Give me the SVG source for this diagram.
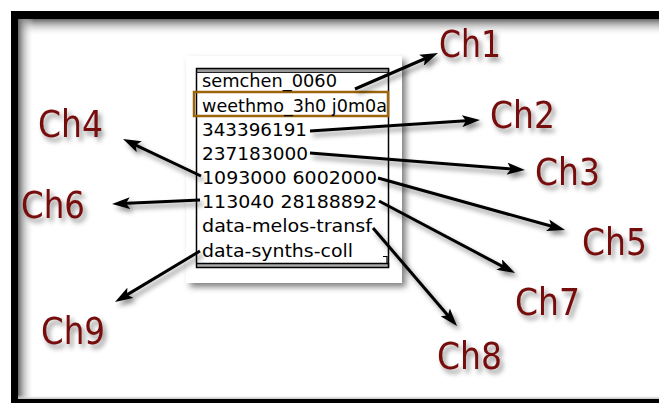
<svg xmlns="http://www.w3.org/2000/svg" width="659" height="403" viewBox="0 0 659 403">
<style>
.lbl{font-family:"DejaVu Sans","Liberation Sans",sans-serif;font-size:37px;fill:#760b0b}
.row{font-family:"DejaVu Sans","Liberation Sans",sans-serif;font-size:18px;fill:#000}
.conn{stroke:#000;stroke-width:3;fill:none;marker-end:url(#ah)}
</style>
<defs>
<marker id="ah" viewBox="0 0 18 12" refX="8" refY="6" markerWidth="18" markerHeight="12" markerUnits="userSpaceOnUse" orient="auto">
<path d="M0,0 L18,6 L0,12 L4,6 Z" fill="#000"/>
</marker>
<filter id="sh" x="-20%" y="-20%" width="150%" height="150%">
<feDropShadow dx="3" dy="4" stdDeviation="2.5" flood-color="#000" flood-opacity="0.45"/>
</filter>
<filter id="psh" x="-10%" y="-10%" width="130%" height="130%">
<feDropShadow dx="4" dy="4" stdDeviation="3" flood-color="#000" flood-opacity="0.5"/>
</filter>
<linearGradient id="gt" x1="0" y1="0" x2="0" y2="1">
<stop offset="0" stop-color="#666"/>
<stop offset="1" stop-color="#fff" stop-opacity="0"/>
</linearGradient>
<linearGradient id="gl" x1="0" y1="0" x2="1" y2="0">
<stop offset="0" stop-color="#666"/>
<stop offset="1" stop-color="#fff" stop-opacity="0"/>
</linearGradient>
<linearGradient id="gb" x1="0" y1="1" x2="0" y2="0">
<stop offset="0" stop-color="#bbb"/>
<stop offset="1" stop-color="#fff" stop-opacity="0"/>
</linearGradient>
</defs>
<rect width="659" height="403" fill="#fff"/>
<g id="frame">
<rect x="18" y="19" width="641" height="17" fill="url(#gt)"/>
<rect x="18" y="19" width="16" height="380" fill="url(#gl)"/>
<rect x="18" y="395" width="641" height="4" fill="url(#gb)"/>
<rect x="11" y="11" width="648" height="8" fill="#000"/>
<rect x="11" y="11" width="7" height="392" fill="#000"/>
<rect x="11" y="399" width="648" height="4" fill="#000"/>
</g>
<g id="panel">
<rect x="186" y="56" width="216" height="227" fill="#fff" filter="url(#psh)"/>
<rect x="196.5" y="69" width="193" height="4" fill="#999"/>
<rect x="196.5" y="263" width="193" height="4" fill="#aaa"/>
<rect x="196.5" y="68.5" width="192" height="199" fill="none" stroke="#000" stroke-width="1.5"/>
<line x1="196.5" y1="72.5" x2="388.5" y2="72.5" stroke="#222" stroke-width="1"/>
<line x1="196.5" y1="263.5" x2="388.5" y2="263.5" stroke="#000" stroke-width="1.5"/>
<path d="M383,256.5 H387 V263" fill="none" stroke="#000" stroke-width="1.2"/>
<rect x="194" y="92" width="194" height="24" fill="none" stroke="#9c650c" stroke-width="2.5"/>
<text class="row" x="202" y="87" textLength="135" lengthAdjust="spacingAndGlyphs">semchen_0060</text>
<text class="row" x="202" y="112" textLength="185" lengthAdjust="spacingAndGlyphs">weethmo_3h0 j0m0a</text>
<text class="row" x="202" y="136" textLength="105" lengthAdjust="spacingAndGlyphs">343396191</text>
<text class="row" x="202" y="160" textLength="106" lengthAdjust="spacingAndGlyphs">237183000</text>
<text class="row" x="202" y="184" textLength="175" lengthAdjust="spacingAndGlyphs">1093000 6002000</text>
<text class="row" x="202" y="208" textLength="175" lengthAdjust="spacingAndGlyphs">113040 28188892</text>
<text class="row" x="202" y="232" textLength="170" lengthAdjust="spacingAndGlyphs">data-melos-transf</text>
<text class="row" x="202" y="257" textLength="151" lengthAdjust="spacingAndGlyphs">data-synths-coll</text>
</g>
<g id="connectors" filter="url(#sh)">
<line class="conn" x1="355" y1="89" x2="428.8" y2="57"/>
<line class="conn" x1="310" y1="131" x2="470" y2="120.6"/>
<line class="conn" x1="310" y1="153" x2="515" y2="169.2"/>
<line class="conn" x1="201" y1="176" x2="132" y2="143.3"/>
<line class="conn" x1="378" y1="178" x2="555.4" y2="227.3"/>
<line class="conn" x1="200" y1="200" x2="122" y2="203.5"/>
<line class="conn" x1="379" y1="201" x2="506.2" y2="268.3"/>
<line class="conn" x1="373" y1="228" x2="450.5" y2="318.4"/>
<line class="conn" x1="200" y1="251" x2="123.6" y2="296.9"/>
</g>
<g id="labels" filter="url(#sh)">
<g id="ch1"><text class="lbl" x="439" y="57" textLength="62" lengthAdjust="spacingAndGlyphs">Ch1</text></g>
<g id="ch2"><text class="lbl" x="490" y="128" textLength="65" lengthAdjust="spacingAndGlyphs">Ch2</text></g>
<g id="ch3"><text class="lbl" x="535" y="185" textLength="65" lengthAdjust="spacingAndGlyphs">Ch3</text></g>
<g id="ch4"><text class="lbl" x="38" y="137" textLength="65" lengthAdjust="spacingAndGlyphs">Ch4</text></g>
<g id="ch5"><text class="lbl" x="582" y="255" textLength="65" lengthAdjust="spacingAndGlyphs">Ch5</text></g>
<g id="ch6"><text class="lbl" x="21" y="218" textLength="64" lengthAdjust="spacingAndGlyphs">Ch6</text></g>
<g id="ch7"><text class="lbl" x="515" y="315" textLength="65" lengthAdjust="spacingAndGlyphs">Ch7</text></g>
<g id="ch8"><text class="lbl" x="437" y="369" textLength="65" lengthAdjust="spacingAndGlyphs">Ch8</text></g>
<g id="ch9"><text class="lbl" x="41" y="344" textLength="64" lengthAdjust="spacingAndGlyphs">Ch9</text></g>
</g>
</svg>
